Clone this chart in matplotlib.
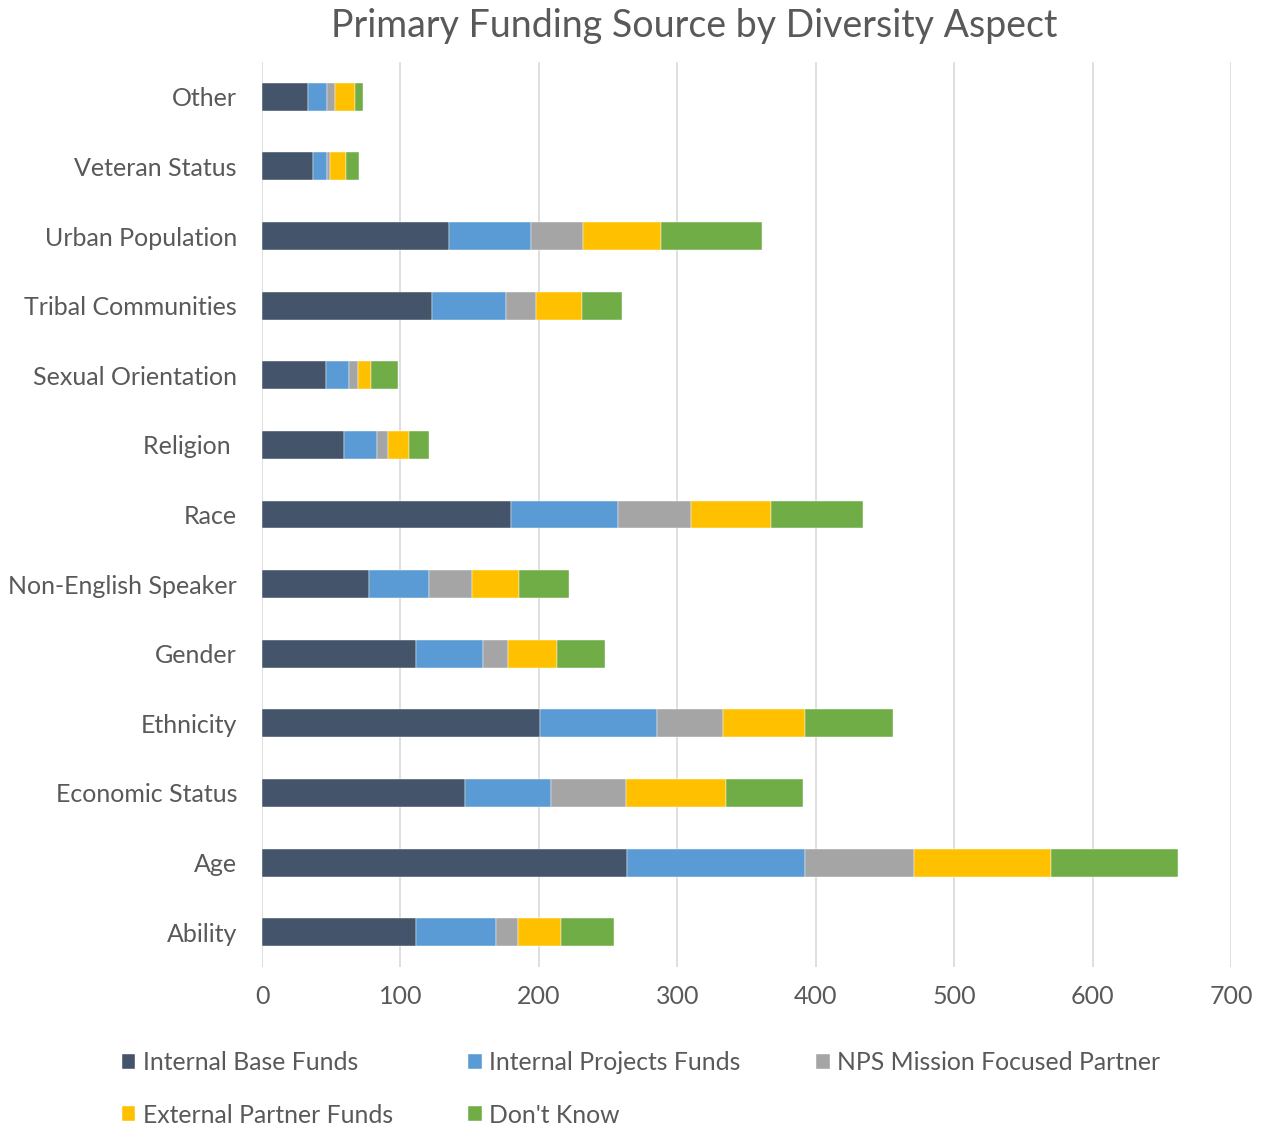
import matplotlib.pyplot as plt
import numpy as np

plt.rcParams['font.family'] = ['Lato', 'DejaVu Sans']

# categories, bottom to top as drawn
aspects = ['Ability', 'Age', 'Economic Status', 'Ethnicity', 'Gender',
           'Non-English Speaker', 'Race', 'Religion ', 'Sexual Orientation',
           'Tribal Communities', 'Urban Population', 'Veteran Status', 'Other']

internal_base = [111, 264, 147, 201, 111, 77, 180, 59, 46, 123, 135, 37, 33]
internal_projects = [58, 128, 62, 84, 49, 44, 77, 24, 17, 53, 59, 10, 14]
nps_partner = [16, 79, 54, 48, 18, 31, 53, 8, 6, 22, 38, 2, 6]
external_partner = [31, 99, 72, 59, 35, 34, 58, 15, 10, 33, 56, 12, 14]
dont_know = [38, 92, 56, 64, 35, 36, 66, 15, 19, 29, 73, 9, 6]

series_names = ['Internal Base Funds', 'Internal Projects Funds',
                'NPS Mission Focused Partner', 'External Partner Funds', "Don't Know"]
colors = ['#44546A', '#5B9BD5', '#A5A5A5', '#FFC000', '#70AD47']

text_color = '#595959'

fig = plt.figure(figsize=(12.65, 11.28), dpi=100)
ax = fig.add_axes([262 / 1265, 1 - 967 / 1128, (1231 - 262) / 1265, (967 - 62) / 1128])

y = np.arange(len(aspects))
left = np.zeros(len(aspects))
all_series = [internal_base, internal_projects, nps_partner, external_partner, dont_know]
for vals, name, col in zip(all_series, series_names, colors):
    ax.barh(y, vals, left=left, height=0.4, color=col, label=name,
            edgecolor='white', linewidth=0.3, zorder=3)
    left += np.array(vals)

ax.set_xlim(0, 700)
ax.set_ylim(-0.5, len(aspects) - 0.5)
ax.set_xticks(range(0, 701, 100))
ax.set_yticks(y)
ax.set_yticklabels(aspects)
ax.tick_params(axis='both', length=0, labelsize=18, labelcolor=text_color)
ax.tick_params(axis='x', pad=13)
ax.tick_params(axis='y', pad=18)
ax.grid(axis='x', color='#D9D9D9', linewidth=1.2, zorder=0)
for s in ax.spines.values():
    s.set_visible(False)

fig.text(694 / 1265, 1 - 26 / 1128, 'Primary Funding Source by Diversity Aspect',
         ha='center', va='center', fontsize=27, color=text_color)

handles, labels = ax.get_legend_handles_labels()
# reorder so matplotlib column fill gives row-major layout
order = [0, 3, 1, 4, 2]
fig.legend([handles[i] for i in order], [labels[i] for i in order],
           ncol=3, loc='upper left', bbox_to_anchor=(112 / 1265, 1 - 1041 / 1128),
           frameon=False, fontsize=17.8, labelcolor=text_color,
           handlelength=0.55, handleheight=0.55, handletextpad=0.3,
           columnspacing=3.05, labelspacing=1.2, borderaxespad=0)

fig.savefig('out.png', dpi=100)
